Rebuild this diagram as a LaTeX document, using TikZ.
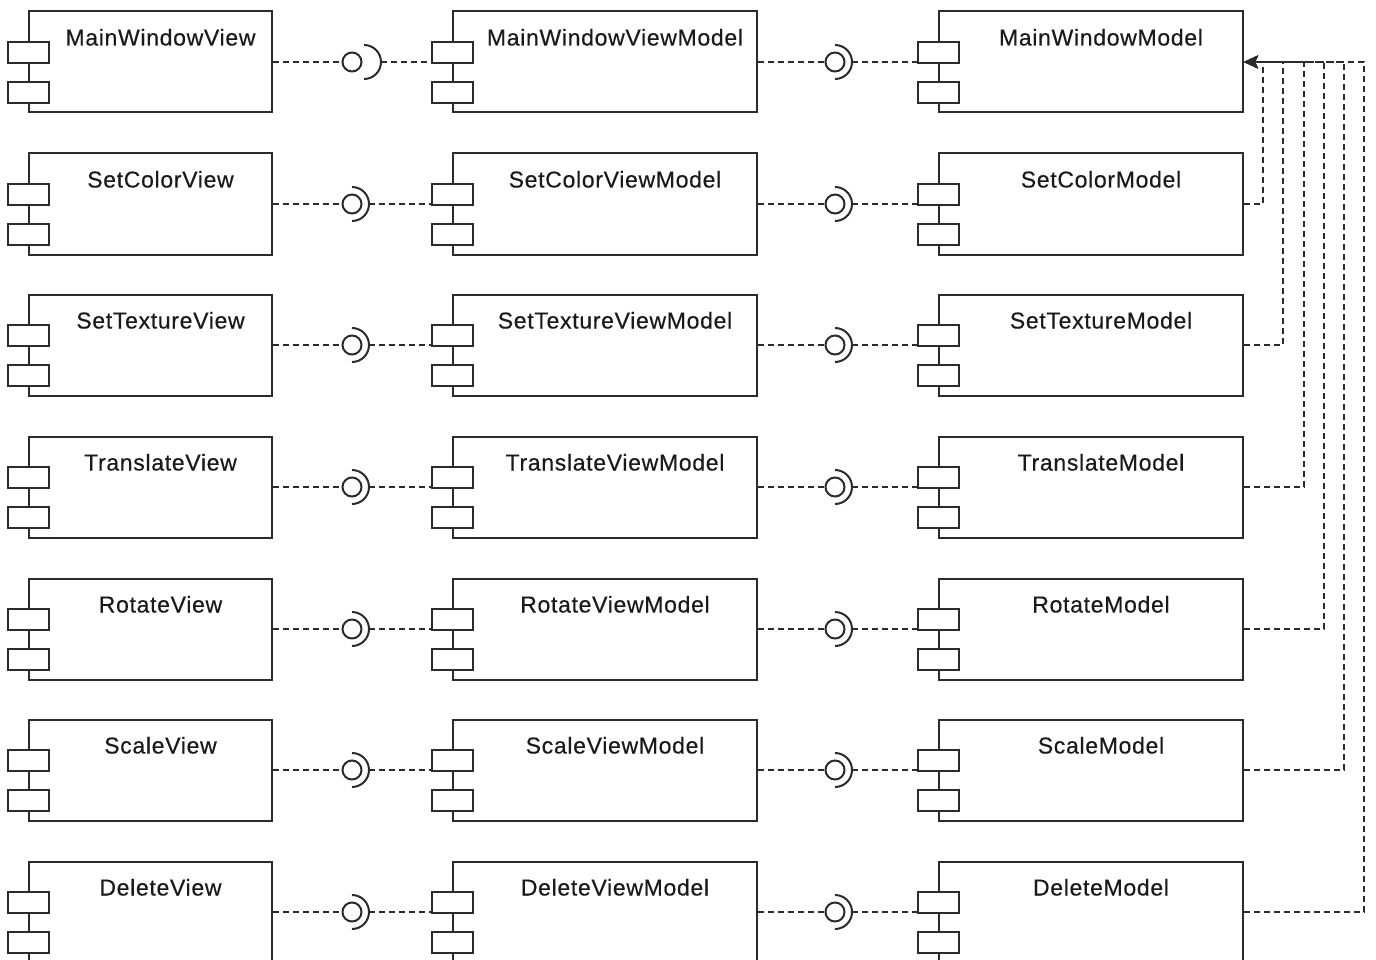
\documentclass[tikz,border=0pt]{standalone}
\usepackage{fontspec}
\setmainfont{Liberation Sans}
\usetikzlibrary{arrows.meta,calc}
\definecolor{ln}{HTML}{2B2B2B}
\definecolor{tx}{HTML}{1A1A1A}
\newcommand\compo[5]{%
  \node[compbox, minimum width=#4 pt] (#1) at ({#2+#4/2}, {#3+51}) {};
  \node[port] (#1p1) at ({#2-0.5}, {#3+41.5}) {};
  \node[port] (#1p2) at ({#2-0.5}, {#3+81.5}) {};
  \node[lbl] (#1t) at ({#2+20+(#4-20)/2}, {#3+34.5}) {#5};
}
\begin{document}
\begin{tikzpicture}[x=1pt,y=-1pt,
  compbox/.style={draw=ln,line width=2pt,rectangle,minimum height=101pt,inner sep=0pt,fill=white},
  port/.style={draw=ln,line width=2pt,fill=white,rectangle,minimum width=41pt,minimum height=21pt,inner sep=0pt},
  lbl/.style={anchor=base,text=tx,inner sep=0pt,font=\fontsize{23}{27}\selectfont\addfontfeature{LetterSpace=3,FakeBold=0.4}},
  conn/.style={draw=ln,line width=1.8pt,dash pattern=on 6pt off 4pt},
  ball/.style={circle,draw=ln,line width=2pt,minimum size=19pt,inner sep=0pt,fill=white},
  sock/.style={draw=ln,line width=2pt}]
\useasboundingbox (0,0) rectangle (1376,960);
\foreach \p [count=\i from 0] in {MainWindow,SetColor,SetTexture,Translate,Rotate,Scale,Delete}{
  \pgfmathsetmacro\t{round(11+141.6667*\i)}
  \pgfmathsetmacro\ym{\t+51}
  \compo{v\i}{29}{\t}{243}{\p View}
  \compo{vm\i}{453}{\t}{304}{\p ViewModel}
  \compo{m\i}{939}{\t}{304}{\p Model}
  % View -> ViewModel
  \node[ball] (b\i) at (352,\ym) {};
  \draw[conn] (v\i.east) -- (b\i.west);
  \ifnum\i=0 \def\sx{364}\else\def\sx{352}\fi
  \coordinate (s\i) at (\sx,\ym);
  \draw[sock] ($(s\i)+(0,17)$) arc[start angle=90,end angle=-90,radius=17];
  \coordinate (se\i) at ($(s\i)+(17,0)$);
  \draw[conn] (se\i) -- ([xshift=-20pt]vm\i.west);
  % ViewModel -> Model
  \node[ball] (bb\i) at (835,\ym) {};
  \draw[conn] (vm\i.east) -- (bb\i.west);
  \coordinate (ss\i) at (835,\ym);
  \draw[sock] ($(ss\i)+(0,17)$) arc[start angle=90,end angle=-90,radius=17];
  \coordinate (sse\i) at ($(ss\i)+(17,0)$);
  \draw[conn] (sse\i) -- ([xshift=-20pt]m\i.west);
}
\foreach \i in {1,...,6}{
  \draw[conn,-{Stealth[length=14pt,width=13pt,inset=3pt]}] (m\i.east) -- ++({round(20.2*\i-1)},0) |- (m0.east);
}
\end{tikzpicture}
\end{document}
